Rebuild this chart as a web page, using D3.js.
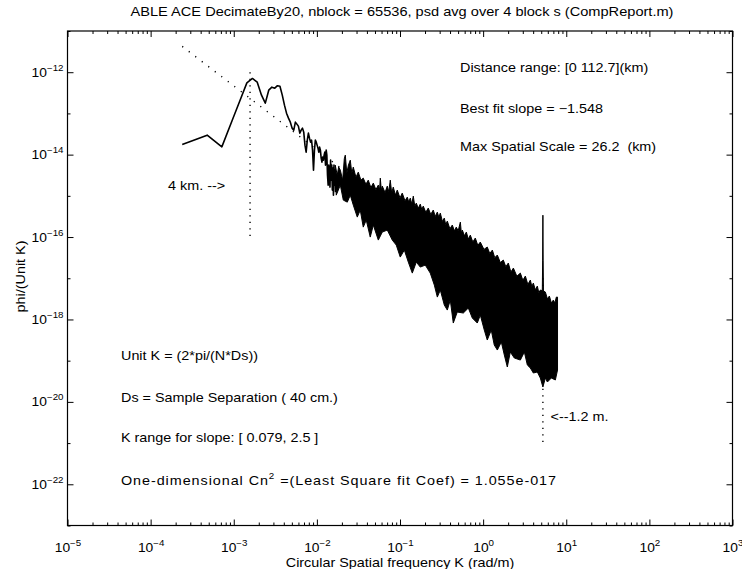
<!DOCTYPE html>
<html><head><meta charset="utf-8">
<script src="https://cdn.jsdelivr.net/npm/d3@7"></script>
<style>
html,body{margin:0;padding:0;background:#fff;}
svg{display:block;}
text{font-family:"Liberation Sans",Arial,Helvetica,sans-serif;fill:#000;}
</style></head><body>
<svg id="chart" width="742" height="569"></svg>
<script>
// ---- data ----
const titleText = "ABLE ACE DecimateBy20, nblock = 65536, psd avg over 4 block s (CompReport.m)";
const xLabelText = "Circular Spatial frequency K (rad/m)";
const yLabelText = "phi/(Unit K)";

// low-frequency PSD samples (K in rad/m, log10 of phi)
const lowK = [0.000240,0.000479,0.000719,0.000959,0.001198,0.001438,0.001678,0.001917,0.002157,0.002397,
  0.002636,0.002876,0.003116,0.003356,0.003595,0.003835,0.004075,0.004314,0.004554,0.004794,
  0.005033,0.005273,0.005513,0.005752,0.005992,0.006232,0.006471,0.006711,0.006951,0.007190,
  0.007430,0.007670,0.007909,0.008149,0.008389,0.008628,0.008868,0.009108,0.009348,0.009587,
  0.009827,0.010067,0.010306,0.010546,0.010786,0.011025,0.011265,0.011505,0.011744,0.011984,
  0.012224,0.012463,0.012703,0.012943,0.013182,0.013422,0.013662,0.013901,0.014141,0.014381,
  0.01462,0.01486,0.0151,0.01534,0.01558,0.01582,0.01606,0.0163,0.01654,0.01678];
const lowPsdLog10 = [-13.753,-13.527,-13.811,-13.166,-12.669,-12.259,-12.152,-12.242,-12.557,-12.751,
  -12.436,-12.363,-12.387,-12.327,-12.339,-12.557,-12.800,-12.994,-13.115,-13.212,
  -13.357,-13.406,-13.212,-13.260,-13.309,-13.479,-13.406,-13.357,-13.455,-13.770,
  -13.940,-13.649,-13.479,-13.600,-13.697,-13.649,-13.891,-14.376,-13.891,-13.649,
  -13.697,-13.770,-13.843,-13.940,-13.818,-13.891,-14.085,-14.182,-14.061,-14.134,
  -14.012,-13.940,-14.255,-13.891,-14.012,-14.498,-14.740,-14.255,-14.570,-14.788,
  -14.134,-14.619,-14.255,-14.861,-14.328,-14.983,-14.255,-14.740,-14.376,-14.910];

// dense high-frequency band: upper and lower envelope (log10 K, log10 phi)
const bandUpperLogK = [-1.779,-1.755,-1.738,-1.718,-1.690,-1.670,-1.658,-1.640,-1.620,-1.598,-1.580,-1.562,-1.530,-1.502,-1.470,-1.442,-1.410,-1.382,-1.350,-1.321,-1.290,-1.261,-1.245,-1.237,-1.225,-1.213,-1.180,-1.153,-1.135,-1.117,-1.100,-1.081,-1.055,-1.033,-1.000,-0.973,-0.940,-0.912,-0.895,-0.876,-0.858,-0.840,-0.822,-0.804,-0.780,-0.756,-0.738,-0.720,-0.690,-0.660,-0.630,-0.600,-0.575,-0.551,-0.533,-0.515,-0.490,-0.467,-0.450,-0.431,-0.400,-0.371,-0.345,-0.323,-0.300,-0.274,-0.262,-0.250,-0.225,-0.202,-0.178,-0.154,-0.124,-0.094,-0.064,-0.034,0.010,0.050,0.080,0.111,0.140,0.171,0.207,0.243,0.273,0.303,0.334,0.364,0.406,0.448,0.478,0.508,0.538,0.568,0.586,0.604,0.628,0.652,0.670,0.688,0.712,0.716,0.719,0.722,0.726,0.749,0.773,0.797,0.821,0.845,0.863,0.881,0.895];
const bandUpperLogPsd = [-14.255,-14.50,-14.30,-14.376,-14.62,-14.10,-14.012,-14.45,-14.25,-14.134,-14.45,-14.303,-14.55,-14.425,-14.62,-14.570,-14.72,-14.619,-14.80,-14.691,-14.85,-14.740,-14.85,-14.570,-14.86,-14.764,-14.92,-14.764,-14.90,-14.619,-14.93,-14.788,-14.98,-14.861,-15.05,-14.934,-15.12,-15.031,-15.15,-15.055,-15.20,-15.007,-15.25,-15.177,-15.30,-15.201,-15.33,-15.249,-15.40,-15.298,-15.45,-15.346,-15.50,-15.395,-15.52,-15.419,-15.62,-15.540,-15.70,-15.613,-15.80,-15.710,-15.85,-15.759,-15.85,-15.637,-15.90,-15.831,-15.97,-15.880,-16.05,-15.953,-16.12,-16.025,-16.20,-16.122,-16.30,-16.243,-16.40,-16.317,-16.50,-16.438,-16.62,-16.559,-16.72,-16.632,-16.85,-16.753,-16.95,-16.875,-17.05,-16.947,-17.15,-17.044,-17.20,-17.117,-17.28,-17.190,-17.35,-17.287,-17.300,-16.560,-15.470,-16.560,-17.310,-17.335,-17.50,-17.432,-17.60,-17.529,-17.60,-17.457,-17.457];
const bandLowerLogK = [-1.767,-1.718,-1.682,-1.634,-1.598,-1.562,-1.514,-1.478,-1.442,-1.406,-1.358,-1.321,-1.261,-1.213,-1.153,-1.093,-1.045,-0.997,-0.948,-0.900,-0.852,-0.804,-0.756,-0.696,-0.636,-0.587,-0.551,-0.515,-0.467,-0.431,-0.395,-0.359,-0.311,-0.238,-0.178,-0.130,-0.070,-0.034,0.014,0.050,0.098,0.134,0.171,0.219,0.255,0.291,0.327,0.375,0.448,0.496,0.532,0.568,0.604,0.652,0.688,0.719,0.749,0.773,0.821,0.869,0.895];
const bandLowerLogPsd = [-14.983,-14.740,-15.104,-15.153,-14.983,-15.225,-15.516,-15.346,-15.759,-15.589,-16.001,-15.710,-16.074,-15.880,-15.831,-16.074,-16.195,-16.486,-16.317,-16.608,-16.875,-16.608,-16.729,-16.681,-16.875,-17.166,-17.457,-17.287,-17.650,-17.772,-17.529,-18.087,-17.820,-17.844,-17.723,-17.966,-18.087,-17.893,-18.257,-18.499,-18.257,-18.620,-18.742,-18.548,-18.863,-19.154,-18.790,-18.935,-18.985,-18.790,-19.106,-19.178,-19.300,-19.275,-19.421,-19.639,-19.421,-19.518,-19.421,-19.469,-19.227];

// least squares fit and marker lines
const fitSlope = -1.548;
const fitCoef = 1.055e-17;
const fitKRange = [0.00024, 7.85];
const markerFourKmK = 0.0015708;          // 2*pi / 4 km
const markerFourKmPsd = [1e-12, 1e-16];
const markerOneTwoMK = 5.236;             // 2*pi / 1.2 m
const markerOneTwoMPsd = [1e-17, 1e-21];

// axes
const xDomain = [1e-5, 1e3];
const yDomain = [1e-23, 1e-11];
const xTickExponents = [-5,-4,-3,-2,-1,0,1,2,3];
const yLabelExponents = [-22,-20,-18,-16,-14,-12];
const yTickExponents = [-23,-22,-21,-20,-19,-18,-17,-16,-15,-14,-13,-12,-11];

// annotation texts
const rightNotes = ["Distance range: [0 112.7](km)", "Best fit slope = \u22121.548", "Max Spatial Scale = 26.2  (km)"];
const leftNotes = ["Unit K = (2*pi/(N*Ds))", "Ds = Sample Separation ( 40 cm.)", "K range for slope: [ 0.079, 2.5 ]"];
const cnNote = {pre: "One-dimensional Cn", sup: "2", post: " =(Least Square fit Coef) = 1.055e-017"};
const fourKmNote = "4 km. -->";
const oneTwoMNote = "<--1.2 m.";

// ---- drawing ----
const W = 742, H = 569;
const L = 67.5, R = 732.5, T = 31, B = 525.5;
const SX = 1.15;
const svg = d3.select("#chart");
svg.append("rect").attr("width", W).attr("height", H).attr("fill", "#fff");

const x = d3.scaleLog().domain(xDomain).range([L, R]);
const y = d3.scaleLog().domain(yDomain).range([B, T]);

function addText(g, px, py, str, size, anchor, rot) {
  const t = g.append("text")
    .attr("transform", `translate(${px},${py})` + (rot ? ` rotate(${rot})` : "") + ` scale(${SX},1)`)
    .attr("text-anchor", anchor || "start")
    .style("font-size", size + "px")
    .style("white-space", "pre")
    .attr("xml:space", "preserve");
  if (str !== null) t.text(str);
  return t;
}

const clipId = "plotclip";
svg.append("clipPath").attr("id", clipId).append("rect").attr("x", L).attr("y", T).attr("width", R - L).attr("height", B - T);
const plot = svg.append("g").attr("clip-path", `url(#${clipId})`);

// fit line (dotted)
const fitPts = fitKRange.map(k => ({K: k, P: fitCoef * Math.pow(k, fitSlope)}));
const ln = d3.line().x(d => x(d.K)).y(d => y(d.P));
plot.append("path").attr("d", ln(fitPts)).attr("fill", "none").attr("stroke", "#000")
  .attr("stroke-width", 1.4).attr("stroke-dasharray", "1.2,7").attr("stroke-linecap", "butt");

// marker dotted verticals
plot.append("path").attr("d", ln(markerFourKmPsd.map(p => ({K: markerFourKmK, P: p}))))
  .attr("fill", "none").attr("stroke", "#000").attr("stroke-width", 1.4).attr("stroke-dasharray", "1.2,5.3");
plot.append("path").attr("d", ln(markerOneTwoMPsd.map(p => ({K: markerOneTwoMK, P: p}))))
  .attr("fill", "none").attr("stroke", "#000").attr("stroke-width", 1.4).attr("stroke-dasharray", "1.2,5.3");

// dense band
const upper = bandUpperLogK.map((k, i) => ({K: Math.pow(10, k), P: Math.pow(10, bandUpperLogPsd[i])}));
const lower = bandLowerLogK.map((k, i) => ({K: Math.pow(10, k), P: Math.pow(10, bandLowerLogPsd[i])}));
plot.append("path").attr("d", ln(upper.concat(lower.slice().reverse())) + "Z")
  .attr("fill", "#000").attr("stroke", "#000").attr("stroke-width", 1).attr("stroke-linejoin", "miter");

// low frequency line
const lowPts = lowK.map((k, i) => ({K: k, P: Math.pow(10, lowPsdLog10[i])}));
plot.append("path").attr("d", ln(lowPts)).attr("fill", "none").attr("stroke", "#000")
  .attr("stroke-width", 1.6).attr("stroke-linejoin", "round");

// axes ticks (inward, on all four sides)
const xMinor = [];
for (let e = -5; e < 3; e++) for (let m = 2; m <= 9; m++) xMinor.push(m * Math.pow(10, e));
const xMajor = xTickExponents.map(e => Math.pow(10, e));
const yMajor = yLabelExponents.map(e => Math.pow(10, e));
const yMinor = yTickExponents.filter(e => !yLabelExponents.includes(e)).map(e => Math.pow(10, e));

function tickAxis(axisFn, scale, vals, size, tr) {
  const g = svg.append("g").attr("transform", tr)
    .call(axisFn(scale).tickValues(vals).tickSize(size).tickSizeOuter(0).tickFormat(() => ""));
  g.select(".domain").remove();
  g.selectAll(".tick line").attr("stroke", "#000").attr("stroke-width", 1);
  return g;
}
const gB = tickAxis(d3.axisBottom, x, xMajor, -6, `translate(0,${B})`);
tickAxis(d3.axisBottom, x, xMinor, -3, `translate(0,${B})`);
tickAxis(d3.axisTop, x, xMajor, -6, `translate(0,${T})`);
tickAxis(d3.axisTop, x, xMinor, -3, `translate(0,${T})`);
const gL = tickAxis(d3.axisLeft, y, yMajor, -6, `translate(${L},0)`);
tickAxis(d3.axisLeft, y, yMinor, -3, `translate(${L},0)`);
tickAxis(d3.axisRight, y, yMajor, -6, `translate(${R},0)`);
tickAxis(d3.axisRight, y, yMinor, -3, `translate(${R},0)`);

// box
svg.append("rect").attr("x", L).attr("y", T).attr("width", R - L).attr("height", B - T)
  .attr("fill", "none").attr("stroke", "#000").attr("stroke-width", 1.2);

// tick labels with superscripts
function expStr(e) { return e < 0 ? "\u2212" + Math.abs(e) : String(e); }
gB.selectAll(".tick").each(function(d) {
  const t = addText(d3.select(this), 0, 26.5, null, 12, "middle");
  t.append("tspan").text("10");
  t.append("tspan").attr("dy", -6).style("font-size", "8.5px").text(expStr(Math.round(Math.log10(d))));
});
gL.selectAll(".tick").each(function(d) {
  const t = addText(d3.select(this), -4, 4, null, 12, "end");
  t.append("tspan").text("10");
  t.append("tspan").attr("dy", -6).style("font-size", "8.5px").text(expStr(Math.round(Math.log10(d))));
});

// titles
addText(svg, 402, 16, titleText, 12.7, "middle");
addText(svg, 400, 567, xLabelText, 12.5, "middle");
addText(svg, 25, 276.5, yLabelText, 12.5, "middle", -90);

// annotations
const rightY = [71.7, 113.3, 150.5];
rightNotes.forEach((s, i) => addText(svg, 460, rightY[i], s, 12.5, "start"));
const leftY = [360, 401.7, 441.7];
leftNotes.forEach((s, i) => addText(svg, 121, leftY[i], s, 12.5, "start"));
const cn = addText(svg, 121, 485, null, 12.5, "start")
  .attr("textLength", (556 - 121) / SX).attr("lengthAdjust", "spacing");
cn.append("tspan").text(cnNote.pre);
cn.append("tspan").attr("dy", -6).style("font-size", "8.5px").text(cnNote.sup);
cn.append("tspan").attr("dy", 6).text(cnNote.post);
addText(svg, 168, 190, fourKmNote, 12.5, "start");
addText(svg, 550.5, 420.5, oneTwoMNote, 12.5, "start");
</script>
</body></html>
